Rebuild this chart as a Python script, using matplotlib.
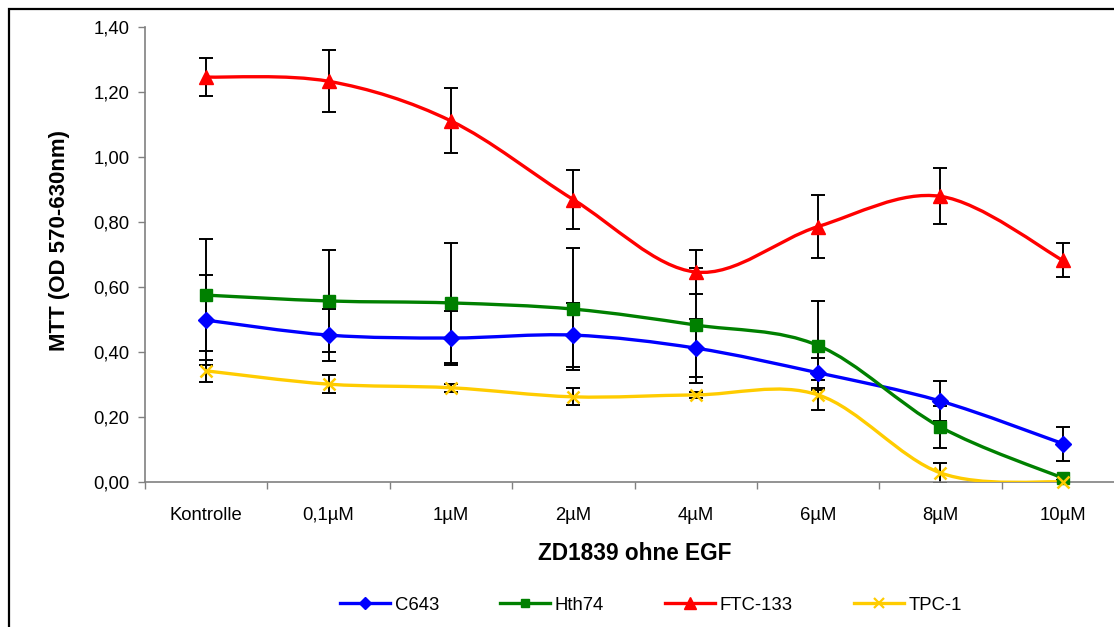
import numpy as np
import matplotlib
matplotlib.use("Agg")
import matplotlib.pyplot as plt
from matplotlib.path import Path
from matplotlib.patches import PathPatch, Rectangle
from matplotlib.lines import Line2D
from matplotlib.ticker import FuncFormatter, FixedLocator

plt.rcParams["font.family"] = ["Liberation Sans", "DejaVu Sans"]

# MTT readings per concentration (mean and SD)
labels = ["Kontrolle", "0,1µM", "1µM", "2µM", "4µM", "6µM", "8µM", "10µM"]

c643 = [0.498, 0.452, 0.443, 0.452, 0.412, 0.336, 0.249, 0.118]
c643_err = [0.139, 0.080, 0.083, 0.099, 0.090, 0.046, 0.062, 0.052]

hth74 = [0.575, 0.557, 0.551, 0.532, 0.483, 0.420, 0.169, 0.012]
hth74_err = [0.173, 0.157, 0.185, 0.188, 0.177, 0.137, 0.064, 0.010]

ftc133 = [1.246, 1.233, 1.111, 0.869, 0.646, 0.786, 0.879, 0.682]
ftc133_err = [0.058, 0.095, 0.100, 0.091, 0.068, 0.098, 0.086, 0.052]

tpc1 = [0.342, 0.301, 0.290, 0.262, 0.268, 0.268, 0.028, 0.000]
tpc1_err = [0.034, 0.028, 0.012, 0.026, 0.010, 0.046, 0.030, 0.005]

series = [
    ("C643", c643, c643_err, "#0000ff", "D", 8),
    ("Hth74", hth74, hth74_err, "#008000", "s", 8),
    ("FTC-133", ftc133, ftc133_err, "#ff0000", "^", 10),
    ("TPC-1", tpc1, tpc1_err, "#ffcc00", "x", 9),
]


def smooth_path(x, y):
    # bezier segments through every point, tangents from the neighbours
    pts = np.column_stack([x, y]).astype(float)
    n = len(pts)
    verts = [pts[0]]
    codes = [Path.MOVETO]
    for i in range(n - 1):
        p0 = pts[max(i - 1, 0)]
        p1 = pts[i]
        p2 = pts[i + 1]
        p3 = pts[min(i + 2, n - 1)]
        verts += [p1 + (p2 - p0) / 6.0, p2 - (p3 - p1) / 6.0, p2]
        codes += [Path.CURVE4] * 3
    return Path(verts, codes)


fig = plt.figure(figsize=(11.14, 6.27), dpi=100)
ax = fig.add_axes([145 / 1114, 145 / 627, 979 / 1114, 455 / 627])

x = np.arange(len(labels))
handles = []
for name, vals, err, col, mk, ms in series:
    ax.errorbar(x, vals, yerr=err, fmt="none", ecolor="black",
                elinewidth=1.4, capsize=5, capthick=1.4, zorder=2)
    ax.add_patch(PathPatch(smooth_path(x, vals), facecolor="none",
                           edgecolor=col, lw=2.4, zorder=3,
                           capstyle="round", joinstyle="round"))
    if mk == "x":
        ax.plot(x, vals, ls="none", marker=mk, ms=ms, mew=1.8, color=col,
                zorder=4, clip_on=False)
    else:
        ax.plot(x, vals, ls="none", marker=mk, ms=ms, color=col, zorder=4,
                clip_on=False)
    handles.append(Line2D([], [], color=col, lw=2.4, marker=mk,
                          ms=ms * 0.8, mew=1.6 if mk == "x" else 1))

ax.set_xlim(-0.5, len(labels) - 0.5)
ax.set_ylim(0, 1.4)
ax.set_yticks(np.arange(0, 1.41, 0.2))
ax.yaxis.set_major_formatter(FuncFormatter(lambda v, p: f"{v:.2f}".replace(".", ",")))

# boundary ticks between categories, labels centred in each slot
ax.xaxis.set_major_locator(FixedLocator(np.arange(-0.5, len(labels), 1.0)))
ax.xaxis.set_minor_locator(FixedLocator(x))
ax.set_xticklabels([], minor=False)
ax.set_xticklabels(labels, minor=True)
ax.tick_params(axis="x", which="major", length=5, width=1, color="#808080",
               direction="out")
ax.tick_params(axis="x", which="minor", length=0, pad=18, labelsize=13.3)
ax.tick_params(axis="y", length=5, width=1, color="#808080", direction="out",
               pad=6, labelsize=13.3)

for s in ["top", "right"]:
    ax.spines[s].set_visible(False)
for s in ["left", "bottom"]:
    ax.spines[s].set_color("#808080")
    ax.spines[s].set_linewidth(1.2)

ax.set_xlabel("ZD1839 ohne EGF", fontsize=16.3, fontweight="bold", labelpad=13)
ax.set_ylabel("MTT (OD 570-630nm)", fontsize=16, fontweight="bold")
ax.yaxis.set_label_coords(-0.0766, 0.53)

fig.legend(handles, [s[0] for s in series], loc="center",
           bbox_to_anchor=(651 / 1114, 22 / 627), ncol=4, frameon=False,
           fontsize=13.3, handlelength=2.7, handletextpad=0.27,
           columnspacing=3.3)

fig.patches.append(Rectangle((9 / 1114, -0.02), 1.1, 1 - 9 / 627 + 0.02,
                             transform=fig.transFigure, fill=False,
                             edgecolor="black", lw=1.6))

fig.savefig("out.png", dpi=100)
